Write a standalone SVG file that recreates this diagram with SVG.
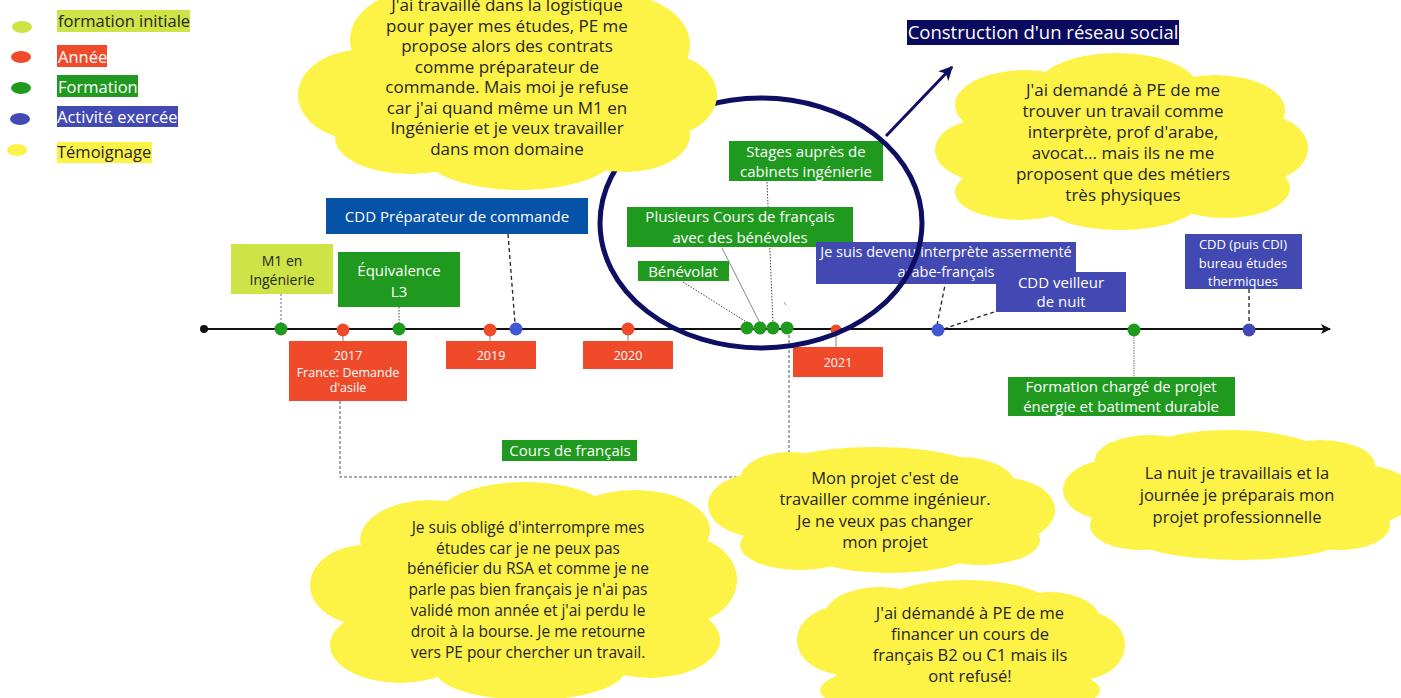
<svg xmlns="http://www.w3.org/2000/svg" width="1401" height="698" viewBox="0 0 1401 698">
<style>
text{font-family:"Open Sans","Noto Sans","Liberation Sans",sans-serif;text-anchor:middle}
.w{fill:#ffffff}
.d{fill:#262626}
.red{fill:#ef4a2a}
.grn{fill:#1f9a1f}
.lgr{fill:#cde346}
.blu{fill:#4349b2}
.dblu{fill:#0652a8}
.yel{fill:#fdf246}
.cloud ellipse{fill:#fdf246}
.cloud text{fill:#262626}
.lg{text-anchor:start;font-size:16.5px}
.dash{stroke:#222;stroke-width:1.3;stroke-dasharray:4 3;fill:none}
.dot{stroke:#444;stroke-width:1;stroke-dasharray:1.5 1.5;fill:none}
.gry{stroke:#999;stroke-width:1.2;fill:none}
</style>
<defs>
<marker id="ah" viewBox="0 0 10 10" refX="9" refY="5" markerWidth="10" markerHeight="10" markerUnits="userSpaceOnUse" orient="auto"><path d="M0,0 L10,5 L0,10 L2.5,5 Z" fill="#111"/></marker>
<marker id="ahn" viewBox="0 0 10 10" refX="9" refY="5" markerWidth="14" markerHeight="14" markerUnits="userSpaceOnUse" orient="auto"><path d="M0,0 L10,5 L0,10 L2.5,5 Z" fill="#0e0e63"/></marker>
</defs>
<rect width="1401" height="698" fill="#ffffff"/>

<g id="legend">
<ellipse cx="22" cy="27" rx="10" ry="6" class="lgr"/>
<rect x="57" y="10" width="133" height="22" class="lgr"/>
<text x="58" y="26.5" class="lg d">formation initiale</text>
<ellipse cx="21" cy="57" rx="10" ry="6" class="red"/>
<rect x="57" y="45" width="50" height="22" class="red"/>
<text x="58" y="62.5" class="lg w">Année</text>
<ellipse cx="21" cy="88" rx="10" ry="6" class="grn"/>
<rect x="57" y="75" width="81" height="22" class="grn"/>
<text x="58" y="92.5" class="lg w">Formation</text>
<ellipse cx="20" cy="119" rx="10" ry="6" class="blu"/>
<rect x="57" y="106" width="121" height="21" class="blu"/>
<text x="57" y="122.5" class="lg w">Activité exercée</text>
<ellipse cx="17" cy="150" rx="10" ry="6" class="yel"/>
<rect x="57" y="142" width="95" height="21" class="yel"/>
<text x="57" y="157.5" class="lg d">Témoignage</text>
</g>

<g id="connectors">
<line x1="204" y1="329" x2="1330" y2="329" stroke="#111" stroke-width="2" marker-end="url(#ah)"/>
<line x1="281" y1="294" x2="281" y2="323" stroke="#6f80d4" stroke-width="1.2" stroke-dasharray="2 2"/>
<line x1="399" y1="307" x2="399" y2="329" class="dot"/>
<line x1="508" y1="234" x2="515" y2="323" class="dash"/>
<line x1="343" y1="330" x2="343" y2="341" class="gry"/>
<line x1="490" y1="330" x2="490" y2="341" class="gry"/>
<line x1="628" y1="330" x2="628" y2="341" class="gry"/>
<line x1="836" y1="326" x2="836" y2="347" class="gry"/>
<polyline points="340,401 340,477 756,477" stroke="#555" stroke-width="1" stroke-dasharray="3 2" fill="none"/>
<line x1="789" y1="335" x2="789" y2="458" stroke="#555" stroke-width="1" stroke-dasharray="3 2"/>
<line x1="683" y1="282" x2="748" y2="323" class="dot"/>
<line x1="722" y1="248" x2="760" y2="323" stroke="#888" stroke-width="1"/>
<line x1="767" y1="182" x2="773" y2="323" class="dot"/>
<line x1="784" y1="302" x2="786" y2="305" stroke="#999" stroke-width="1"/>
<line x1="946" y1="280" x2="937" y2="325" class="dash"/>
<line x1="994" y1="312" x2="946" y2="328" class="dash"/>
<line x1="1249" y1="289" x2="1249" y2="323" class="dash"/>
<line x1="1134" y1="335" x2="1134" y2="377" stroke="#888" stroke-width="1.2" stroke-dasharray="1.5 1"/>
<line x1="886" y1="136" x2="952" y2="67" stroke="#0e0e63" stroke-width="3" marker-end="url(#ahn)"/>
</g>

<g id="dots">
<circle cx="204" cy="329" r="4" fill="#111"/>
<circle cx="281" cy="329" r="6.5" class="grn"/>
<circle cx="343" cy="330" r="6.5" class="red"/>
<circle cx="399" cy="329" r="6.5" class="grn"/>
<circle cx="490" cy="330" r="6.5" class="red"/>
<circle cx="516" cy="329" r="6.5" fill="#4257d2"/>
<circle cx="628" cy="329" r="6.5" class="red"/>
<circle cx="747" cy="328" r="6.5" class="grn"/>
<circle cx="760" cy="328" r="6.5" class="grn"/>
<circle cx="773" cy="328" r="6.5" class="grn"/>
<circle cx="787" cy="328" r="6.5" class="grn"/>
<circle cx="836" cy="330" r="5.5" class="red"/>
<circle cx="938" cy="330" r="6.5" fill="#4257d2"/>
<circle cx="1134" cy="330" r="6.5" class="grn"/>
<circle cx="1249" cy="330" r="6.5" fill="#4349b2"/>
</g>

<g id="n-m1"><rect x="231" y="244" width="102" height="50" class="lgr"/><text x="282" y="266" font-size="14" class="d">M1 en</text><text x="282" y="285" font-size="14" class="d">Ingénierie</text></g>
<g id="n-equiv"><rect x="338" y="252" width="122" height="55" class="grn"/><text x="399" y="275.5" font-size="15" class="w">Équivalence</text><text x="399" y="296.5" font-size="15" class="w">L3</text></g>
<g id="n-cddprep"><rect x="326" y="198" width="262" height="36" class="dblu"/><text x="457" y="221.5" font-size="15" class="w">CDD Préparateur de commande</text></g>
<g id="n-2017"><rect x="289" y="341" width="118" height="60" class="red"/><text x="348" y="359.5" font-size="12.5" class="w">2017</text><text x="348" y="376.5" font-size="12.5" class="w">France: Demande</text><text x="348" y="391.5" font-size="12.5" class="w">d'asile</text></g>
<g id="n-2019"><rect x="446" y="341" width="90" height="28" class="red"/><text x="491" y="359.5" font-size="12.5" class="w">2019</text></g>
<g id="n-2020"><rect x="583" y="341" width="90" height="28" class="red"/><text x="628" y="359.5" font-size="12.5" class="w">2020</text></g>
<g id="n-2021"><rect x="793" y="347" width="90" height="30" class="red"/><text x="838" y="367" font-size="12.5" class="w">2021</text></g>
<g id="n-stages"><rect x="729" y="141" width="154" height="40" class="grn"/><text x="806" y="157" font-size="15" class="w">Stages auprès de</text><text x="806" y="177" font-size="15" class="w">cabinets ingénierie</text></g>
<g id="n-plusieurs"><rect x="627" y="207" width="226" height="40" class="grn"/><text x="740" y="222" font-size="15" class="w">Plusieurs Cours de français</text><text x="740" y="243" font-size="15" class="w">avec des bénévoles</text></g>
<g id="n-benevolat"><rect x="638" y="261" width="91" height="20" class="grn"/><text x="683" y="276.5" font-size="15" class="w">Bénévolat</text></g>
<g id="n-interprete"><rect x="816" y="242" width="260" height="42" class="blu"/><text x="946" y="257" font-size="14.5" class="w">Je suis devenu interprète assermenté</text><text x="946" y="277" font-size="14.5" class="w">arabe-français</text></g>
<g id="n-veilleur"><rect x="996" y="272" width="130" height="40" class="blu"/><text x="1061" y="288" font-size="15" class="w">CDD veilleur</text><text x="1061" y="307" font-size="15" class="w">de nuit</text></g>
<g id="n-cdi"><rect x="1185" y="234" width="117" height="55" class="blu"/><text x="1243" y="249" font-size="13" class="w">CDD (puis CDI)</text><text x="1243" y="267.5" font-size="13" class="w">bureau études</text><text x="1243" y="286" font-size="13" class="w">thermiques</text></g>
<g id="n-formation"><rect x="1008" y="377" width="227" height="39" class="grn"/><text x="1121" y="392" font-size="15" class="w">Formation chargé de projet</text><text x="1121" y="412" font-size="15" class="w">énergie et batiment durable</text></g>
<g id="n-cours"><rect x="502" y="440" width="135" height="21" class="grn"/><text x="570" y="456" font-size="15" class="w">Cours de français</text></g>
<g id="n-reseau"><rect x="907" y="20" width="272" height="25" fill="#0a0a5e"/><text x="1043" y="39" font-size="18.5" class="w">Construction d'un réseau social</text></g>

<g id="n-circle"><ellipse cx="761" cy="223" rx="161" ry="125" fill="none" stroke="#0e0e63" stroke-width="5"/></g>

<g id="c-logistique" class="cloud" font-size="17">
<ellipse cx="507" cy="90" rx="170" ry="80"/>
<ellipse cx="360" cy="95" rx="62" ry="45"/>
<ellipse cx="420" cy="40" rx="70" ry="50"/>
<ellipse cx="510" cy="20" rx="110" ry="50"/>
<ellipse cx="620" cy="45" rx="70" ry="50"/>
<ellipse cx="660" cy="95" rx="57" ry="42"/>
<ellipse cx="410" cy="138" rx="75" ry="36"/>
<ellipse cx="520" cy="155" rx="95" ry="35"/>
<ellipse cx="625" cy="135" rx="65" ry="37"/>
<text x="507" y="11">J'ai travaillé dans la logistique</text>
<text x="507" y="31.5">pour payer mes études, PE me</text>
<text x="507" y="52">propose alors des contrats</text>
<text x="507" y="72.5">comme préparateur de</text>
<text x="507" y="93">commande. Mais moi je refuse</text>
<text x="507" y="113.5">car j'ai quand même un M1 en</text>
<text x="507" y="134">Ingénierie et je veux travailler</text>
<text x="507" y="154.5">dans mon domaine</text>
</g>

<g id="c-interprete" class="cloud" font-size="17">
<ellipse cx="1122" cy="145" rx="160" ry="65"/>
<ellipse cx="1117" cy="90" rx="82" ry="37"/>
<ellipse cx="1025" cy="105" rx="70" ry="35"/>
<ellipse cx="1215" cy="110" rx="70" ry="35"/>
<ellipse cx="990" cy="150" rx="55" ry="32"/>
<ellipse cx="1255" cy="148" rx="53" ry="35"/>
<ellipse cx="1020" cy="192" rx="65" ry="28"/>
<ellipse cx="1120" cy="200" rx="80" ry="30"/>
<ellipse cx="1225" cy="188" rx="65" ry="30"/>
<text x="1123" y="96">J'ai demandé à PE de me</text>
<text x="1123" y="117">trouver un travail comme</text>
<text x="1123" y="138">interprète, prof d'arabe,</text>
<text x="1123" y="159">avocat... mais ils ne me</text>
<text x="1123" y="180">proposent que des métiers</text>
<text x="1123" y="201">très physiques</text>
</g>

<g id="c-interrompre" class="cloud" font-size="15.5">
<ellipse cx="525" cy="590" rx="180" ry="85"/>
<ellipse cx="525" cy="520" rx="90" ry="38"/>
<ellipse cx="430" cy="540" rx="70" ry="40"/>
<ellipse cx="635" cy="530" rx="75" ry="40"/>
<ellipse cx="365" cy="585" rx="55" ry="40"/>
<ellipse cx="680" cy="580" rx="57" ry="45"/>
<ellipse cx="400" cy="645" rx="70" ry="38"/>
<ellipse cx="530" cy="670" rx="95" ry="30"/>
<ellipse cx="650" cy="640" rx="70" ry="38"/>
<text x="528" y="532.5">Je suis obligé d'interrompre mes</text>
<text x="528" y="553.5">études car je ne peux pas</text>
<text x="528" y="574">bénéficier du RSA et comme je ne</text>
<text x="528" y="595">parle pas bien français je n'ai pas</text>
<text x="528" y="615.5">validé mon année et j'ai perdu le</text>
<text x="528" y="636.5">droit à la bourse. Je me retourne</text>
<text x="528" y="657.5">vers PE pour chercher un travail.</text>
</g>

<g id="c-projet" class="cloud" font-size="16.5">
<ellipse cx="880" cy="510" rx="160" ry="50"/>
<ellipse cx="875" cy="478" rx="115" ry="31"/>
<ellipse cx="760" cy="505" rx="52" ry="32"/>
<ellipse cx="1005" cy="510" rx="50" ry="32"/>
<ellipse cx="800" cy="545" rx="60" ry="25"/>
<ellipse cx="890" cy="550" rx="85" ry="23"/>
<ellipse cx="980" cy="540" rx="60" ry="25"/>
<ellipse cx="960" cy="485" rx="55" ry="28"/>
<ellipse cx="790" cy="480" rx="50" ry="28"/>
<text x="885" y="484">Mon projet c'est de</text>
<text x="885" y="505">travailler comme ingénieur.</text>
<text x="885" y="526.5">Je ne veux pas changer</text>
<text x="885" y="547.5">mon projet</text>
</g>

<g id="c-nuit" class="cloud" font-size="16.5">
<ellipse cx="1235" cy="495" rx="150" ry="50"/>
<ellipse cx="1230" cy="462" rx="100" ry="32"/>
<ellipse cx="1110" cy="490" rx="47" ry="30"/>
<ellipse cx="1360" cy="495" rx="55" ry="30"/>
<ellipse cx="1240" cy="535" rx="110" ry="25"/>
<ellipse cx="1150" cy="460" rx="55" ry="25"/>
<ellipse cx="1320" cy="465" rx="55" ry="25"/>
<ellipse cx="1140" cy="525" rx="50" ry="25"/>
<ellipse cx="1340" cy="525" rx="50" ry="25"/>
<text x="1237" y="479">La nuit je travaillais et la</text>
<text x="1237" y="501">journée je préparais mon</text>
<text x="1237" y="523">projet professionnelle</text>
</g>

<g id="c-financer" class="cloud" font-size="16.5">
<ellipse cx="962" cy="645" rx="150" ry="55"/>
<ellipse cx="965" cy="610" rx="90" ry="30"/>
<ellipse cx="845" cy="640" rx="48" ry="35"/>
<ellipse cx="1080" cy="645" rx="45" ry="35"/>
<ellipse cx="960" cy="690" rx="140" ry="30"/>
<ellipse cx="880" cy="615" rx="55" ry="28"/>
<ellipse cx="1050" cy="620" rx="50" ry="28"/>
<text x="970" y="619">J'ai démandé à PE de me</text>
<text x="970" y="640">financer un cours de</text>
<text x="970" y="661">français B2 ou C1 mais ils</text>
<text x="970" y="682">ont refusé!</text>
</g>
</svg>
